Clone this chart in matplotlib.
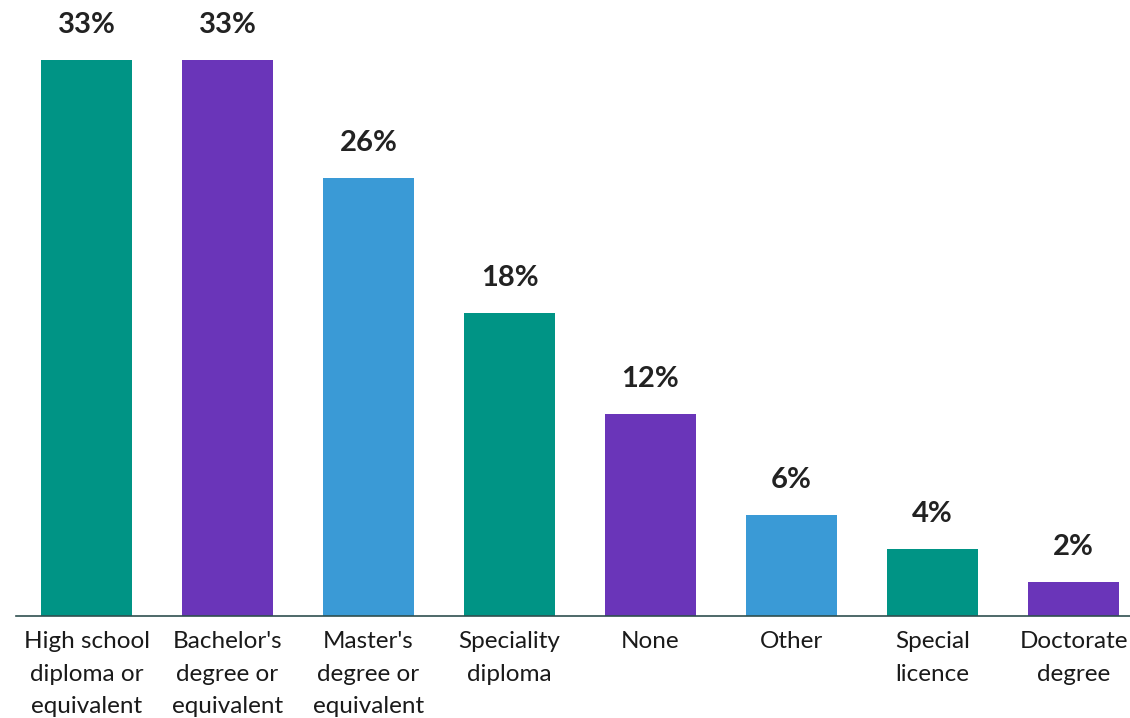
import matplotlib.pyplot as plt

categories = [
    "High school\ndiploma or\nequivalent",
    "Bachelor's\ndegree or\nequivalent",
    "Master's\ndegree or\nequivalent",
    "Speciality\ndiploma",
    "None",
    "Other",
    "Special\nlicence",
    "Doctorate\ndegree",
]
shares = [33, 33, 26, 18, 12, 6, 4, 2]
bar_colors = ["#009485", "#6a35b9", "#3a9ad6", "#009485",
              "#6a35b9", "#3a9ad6", "#009485", "#6a35b9"]

plt.rcParams["font.family"] = ["Lato", "DejaVu Sans"]

fig = plt.figure(figsize=(11.3, 7.18), dpi=100)
ax = fig.add_axes([16 / 1130, 102 / 718, 1114 / 1130, 606.6 / 718])

x = range(len(categories))
ax.bar(x, shares, width=0.645, color=bar_colors)

for xi, v in zip(x, shares):
    ax.annotate(f"{v}%", (xi, v), xytext=(0, 19.5), textcoords="offset points",
                ha="center", va="baseline", fontsize=21, fontweight="bold",
                color="#222222")

ax.set_xlim(-0.5, -0.5 + 1114 / 141)
ax.set_ylim(0, 36)
ax.set_xticks(list(x))
ax.set_xticklabels(categories, fontsize=17.5, color="#1a1a1a", linespacing=1.68)
ax.tick_params(axis="x", length=0, pad=11)
ax.set_yticks([])

for side in ["top", "left", "right"]:
    ax.spines[side].set_visible(False)
ax.spines["bottom"].set_color("#2f4f4f")
ax.spines["bottom"].set_linewidth(1.2)

fig.savefig("out.png", dpi=100)
